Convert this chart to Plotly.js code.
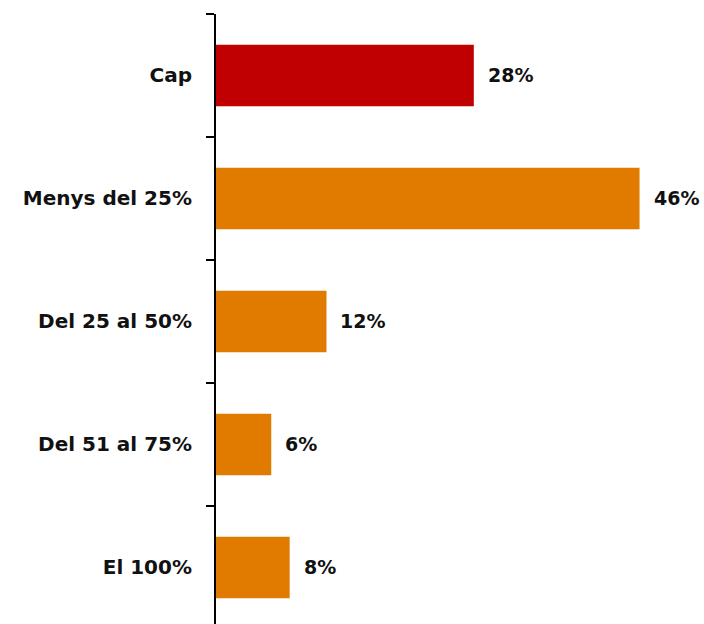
<!DOCTYPE html>
<html>
<head>
<meta charset="utf-8">
<script src="https://cdn.plot.ly/plotly-3.0.1.min.js"></script>
<style>html,body{margin:0;padding:0;background:#fff;}#chart{width:704px;height:624px;}</style>
</head>
<body>
<div id="chart"></div>
<script>
const categories = ["Cap", "Menys del 25%", "Del 25 al 50%", "Del 51 al 75%", "El 100%"];
const values = [28, 46, 12, 6, 8];
const barColors = ["#C00000", "#E07B00", "#E07B00", "#E07B00", "#E07B00"];
const valueLabels = values.map(v => v + "%");

const FONT = "DejaVu Sans";

const trace = {
  type: "bar",
  orientation: "h",
  x: values,
  y: categories,
  width: 0.5,
  marker: {color: barColors, line: {width: 0}},
  hoverinfo: "none"
};

const annotations = categories.map((c, i) => ({
  x: values[i], y: c, xref: "x", yref: "y",
  text: valueLabels[i], showarrow: false,
  xanchor: "left", yanchor: "middle", xshift: 12,
  font: {family: FONT, size: 19, color: "#111", weight: "bold"}
}));

const layout = {
  width: 704, height: 624,
  margin: {l: 216, r: 0, t: 14, b: 0},
  paper_bgcolor: "#fff", plot_bgcolor: "#fff",
  showlegend: false,
  xaxis: {range: [0, 53], visible: false, fixedrange: true},
  yaxis: {
    type: "category",
    categoryorder: "array", categoryarray: categories,
    range: [4.46, -0.5],
    autorange: false,
    showline: true, linecolor: "#000", linewidth: 2,
    ticks: "outside", tickson: "boundaries", ticklen: 8, tickwidth: 2, tickcolor: "#000",
    showgrid: false, zeroline: false,
    ticklabelstandoff: 18,
    tickfont: {family: FONT, size: 20, color: "#111", weight: "bold"}
  },
  annotations: annotations
};

Plotly.newPlot("chart", [trace], layout, {displayModeBar: false, staticPlot: true});
</script>
</body>
</html>
